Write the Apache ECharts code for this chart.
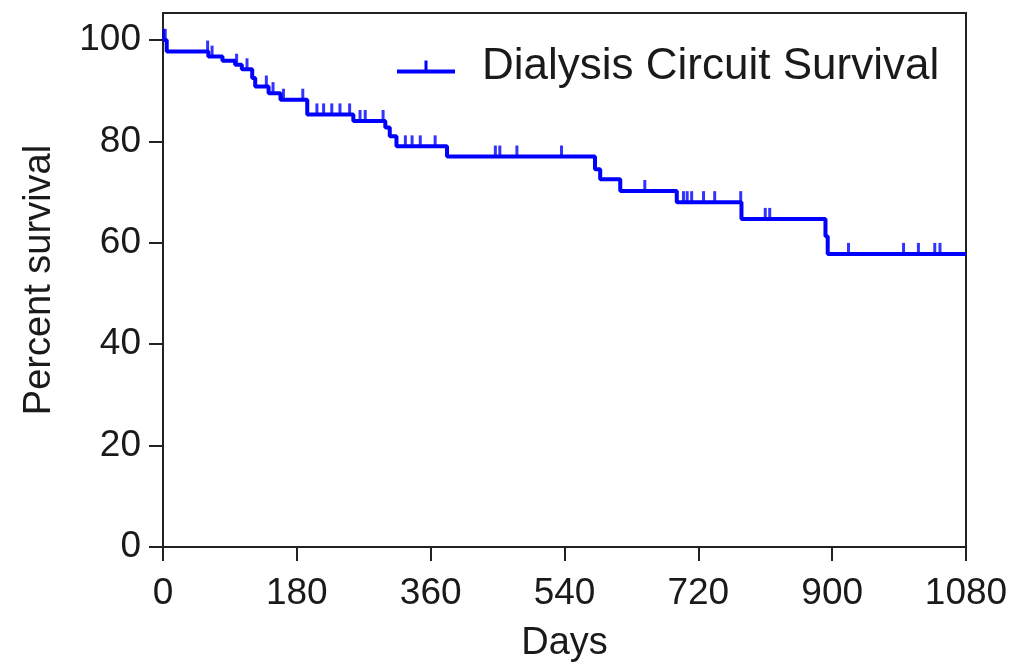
<!DOCTYPE html>
<html>
<head>
<meta charset="utf-8">
<script src="https://cdn.jsdelivr.net/npm/echarts@6/dist/echarts.min.js"></script>
<style>html,body{margin:0;padding:0;background:#fff;}#c{width:1017px;height:668px;}</style>
</head>
<body>
<div id="c"></div>
<script>
const seriesName = 'Dialysis Circuit Survival';
const stepDays = [0, 5, 61, 80, 97, 106, 120, 124, 142, 158, 194, 256, 299, 305, 314, 382, 581, 588, 615, 691, 778, 891, 894, 1080];
const stepPct  = [100, 97.7, 96.7, 95.9, 95.1, 94.2, 92.5, 90.8, 89.5, 88.2, 85.3, 84.0, 82.7, 81.0, 79.0, 77.0, 74.5, 72.5, 70.2, 68.0, 64.7, 61.3, 57.8, 57.8];
const censorDays = [1, 3, 60, 66, 99, 113, 139, 148, 162, 188, 207, 216, 227, 238, 251, 265, 272, 296, 326, 335, 346, 366, 447, 453, 476, 536, 648, 700, 705, 711, 727, 742, 777, 810, 816, 922, 996, 1016, 1038, 1045];
const censorPct  = [100, 100, 97.7, 96.7, 95.1, 94.2, 90.8, 89.5, 88.2, 88.2, 85.3, 85.3, 85.3, 85.3, 85.3, 84.0, 84.0, 84.0, 79.0, 79.0, 79.0, 79.0, 77.0, 77.0, 77.0, 77.0, 70.2, 68.0, 68.0, 68.0, 68.0, 68.0, 68.0, 64.7, 64.7, 57.8, 57.8, 57.8, 57.8, 57.8];
const xTicks = [0, 180, 360, 540, 720, 900, 1080];
const yTicks = [0, 20, 40, 60, 80, 100];

const font = 'Liberation Sans, Arial, sans-serif';
const txt = '#1a1a1a';
const blue = '#0000ff';

const chart = echarts.init(document.getElementById('c'), null, {renderer: 'canvas'});
chart.setOption({
  animation: false,
  backgroundColor: '#fff',
  grid: {left: 163, right: 51, top: 13, bottom: 118, show: true, borderColor: '#222', borderWidth: 2, backgroundColor: 'transparent'},
  legend: {
    left: 392, top: 40,
    itemWidth: 58, itemHeight: 13, itemGap: 10,
    data: [{name: seriesName, icon: 'path://M0,9 H58 V13 H0 Z M27.5,0 H30.5 V10 H27.5 Z'}],
    textStyle: {fontFamily: font, fontSize: 44, color: txt, padding: [0, 0, 0, 22]}
  },
  xAxis: {
    type: 'value', min: 0, max: 1080, interval: 180,
    name: 'Days', nameLocation: 'middle', nameGap: 78,
    nameTextStyle: {fontFamily: font, fontSize: 38, color: txt},
    axisLine: {show: true, onZero: false, lineStyle: {color: '#222', width: 2}},
    axisTick: {show: true, length: 14, lineStyle: {color: '#222', width: 2}, customValues: xTicks},
    axisLabel: {fontFamily: font, fontSize: 37, color: txt, margin: 28, customValues: xTicks, formatter: v => String(v)},
    splitLine: {show: false}
  },
  yAxis: {
    type: 'value', min: 0, max: 105.3,
    name: 'Percent survival', nameLocation: 'middle', nameGap: 104,
    nameTextStyle: {fontFamily: font, fontSize: 38, color: txt},
    axisLine: {show: true, onZero: false, lineStyle: {color: '#222', width: 2}},
    axisTick: {show: true, length: 14, lineStyle: {color: '#222', width: 2}, customValues: yTicks},
    axisLabel: {fontFamily: font, fontSize: 37, color: txt, margin: 22, customValues: yTicks, formatter: v => String(v)},
    splitLine: {show: false}
  },
  series: [
    {
      name: seriesName, type: 'line', step: 'end', showSymbol: false, symbol: 'none',
      lineStyle: {color: blue, width: 4}, itemStyle: {color: blue},
      data: stepDays.map((d, i) => [d, stepPct[i]])
    },
    {
      name: 'censored', type: 'scatter', symbol: 'rect', symbolSize: [3, 11], symbolOffset: [0, -5.5],
      itemStyle: {color: blue}, silent: true,
      data: censorDays.map((d, i) => [d, censorPct[i]])
    }
  ]
});
</script>
</body>
</html>
